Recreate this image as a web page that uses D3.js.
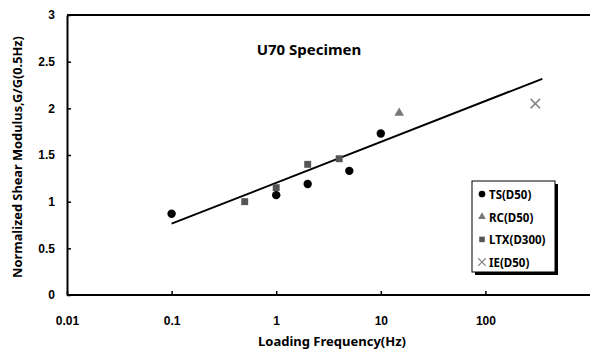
<!DOCTYPE html>
<html>
<head>
<meta charset="utf-8">
<script src="https://cdn.jsdelivr.net/npm/d3@7"></script>
<style>
  body { margin: 0; background: #fff; }
  svg { font-family: 'Noto Sans', sans-serif; font-weight: bold; }
</style>
</head>
<body>
<svg id="chart"></svg>
<script>
const xTicks = [0.01, 0.1, 1, 10, 100];
const yTicks = [0, 0.5, 1, 1.5, 2, 2.5, 3];

const tsFreq = [0.1, 1, 2, 5, 10];
const tsVal = [0.87, 1.07, 1.19, 1.33, 1.73];
const rcFreq = [15];
const rcVal = [1.95];
const ltxFreq = [0.5, 1, 2, 4];
const ltxVal = [1.0, 1.15, 1.40, 1.46];
const ieFreq = [300];
const ieVal = [2.05];

// fitted trend: G/G0.5 = a + b*log10(f)
const fitFreq = [0.1, 350];
const fitA = 1.202;
const fitB = 0.438;

const legendLabels = ['TS(D50)', 'RC(D50)', 'LTX(D300)', 'IE(D50)'];

const width = 590, height = 351;
const margin = { top: 15, right: -7, bottom: 56, left: 67 };
const w = width - margin.left - margin.right;
const h = height - margin.top - margin.bottom;

const svg = d3.select('#chart')
  .attr('width', width)
  .attr('height', height);

const g = svg.append('g')
  .attr('transform', `translate(${margin.left}, ${margin.top})`);

const x = d3.scaleLog().domain([0.01, 1000]).range([0, w - 7]);
const y = d3.scaleLinear().domain([0, 3]).range([h, 0]);

// frame top line
g.append('line')
  .attr('x1', 0).attr('x2', w).attr('y1', 0).attr('y2', 0)
  .attr('stroke', '#000').attr('stroke-width', 2);

const xAxis = g.append('g')
  .attr('transform', `translate(0, ${h})`)
  .call(d3.axisBottom(x).tickValues(xTicks).tickFormat(d3.format('')).tickSizeInner(-4).tickSizeOuter(0).tickPadding(21));
xAxis.select('.domain').attr('stroke-width', 2).attr('d', `M0,0H${w}`);
xAxis.selectAll('.tick line').attr('stroke-width', 1.5);
xAxis.selectAll('text').attr('font-size', 12).attr('fill', '#000');

const yAxis = g.append('g')
  .call(d3.axisLeft(y).tickValues(yTicks).tickFormat(d3.format('')).tickSizeInner(-4).tickSizeOuter(0).tickPadding(12));
yAxis.select('.domain').attr('stroke-width', 2);
yAxis.selectAll('.tick line').attr('stroke-width', 1.5);
yAxis.selectAll('text').attr('font-size', 12).attr('fill', '#000');

// trend line
g.append('path')
  .datum(fitFreq)
  .attr('fill', 'none')
  .attr('stroke', '#000')
  .attr('stroke-width', 2)
  .attr('d', d3.line().x(d => x(d)).y(d => y(fitA + fitB * Math.log10(d))));

const tri = d3.symbol().type(d3.symbolTriangle).size(40);
const sq = d3.symbol().type(d3.symbolSquare).size(48);
const cross = d3.symbol().type(d3.symbolX).size(60);

const drawMarker = (sel, type) => {
  if (type === 0) {
    sel.append('circle').attr('r', 4.2).attr('fill', '#000');
  } else if (type === 1) {
    sel.append('path').attr('d', tri).attr('fill', '#777');
  } else if (type === 2) {
    sel.append('path').attr('d', sq).attr('fill', '#555');
  } else {
    sel.append('path').attr('d', cross).attr('fill', 'none').attr('stroke', '#888').attr('stroke-width', 1.6);
  }
};

const series = [
  { f: tsFreq, v: tsVal },
  { f: rcFreq, v: rcVal },
  { f: ltxFreq, v: ltxVal },
  { f: ieFreq, v: ieVal }
];
[2, 1, 0, 3].forEach(i => {
  const s = series[i];
  s.f.forEach((f, k) => {
    const m = g.append('g').attr('transform', `translate(${x(f)}, ${y(s.v[k])})`);
    drawMarker(m, i);
  });
});

// title
g.append('text')
  .attr('x', 242).attr('y', 40)
  .attr('text-anchor', 'middle')
  .attr('font-size', 15)
  .text('U70 Specimen');

// axis titles
svg.append('text')
  .attr('x', 332).attr('y', 346)
  .attr('text-anchor', 'middle')
  .attr('font-size', 13)
  .text('Loading Frequency(Hz)');

svg.append('text')
  .attr('transform', 'translate(22, 157) rotate(-90)')
  .attr('text-anchor', 'middle')
  .attr('font-size', 12.8)
  .text('Normalized Shear Modulus,G/G(0.5Hz)');

// legend
const legend = svg.append('g').attr('transform', 'translate(472, 181)');
legend.append('rect')
  .attr('x', 3).attr('y', 3).attr('width', 83).attr('height', 91)
  .attr('fill', '#000');
legend.append('rect')
  .attr('x', 0).attr('y', 0).attr('width', 83).attr('height', 91)
  .attr('fill', '#fff').attr('stroke', '#000').attr('stroke-width', 1);

const items = legend.selectAll('g.item')
  .data(legendLabels)
  .enter()
  .append('g')
  .attr('class', 'item')
  .attr('transform', (d, i) => `translate(10, ${13 + i * 22.7})`);

items.each(function(d, i) {
  const m = d3.select(this).append('g').attr('transform', 'scale(0.8)');
  drawMarker(m, i);
});

items.append('text')
  .attr('x', 7)
  .attr('y', 1)
  .attr('dy', '0.35em')
  .attr('font-size', 11.5)
  .text(d => d);
</script>
</body>
</html>
